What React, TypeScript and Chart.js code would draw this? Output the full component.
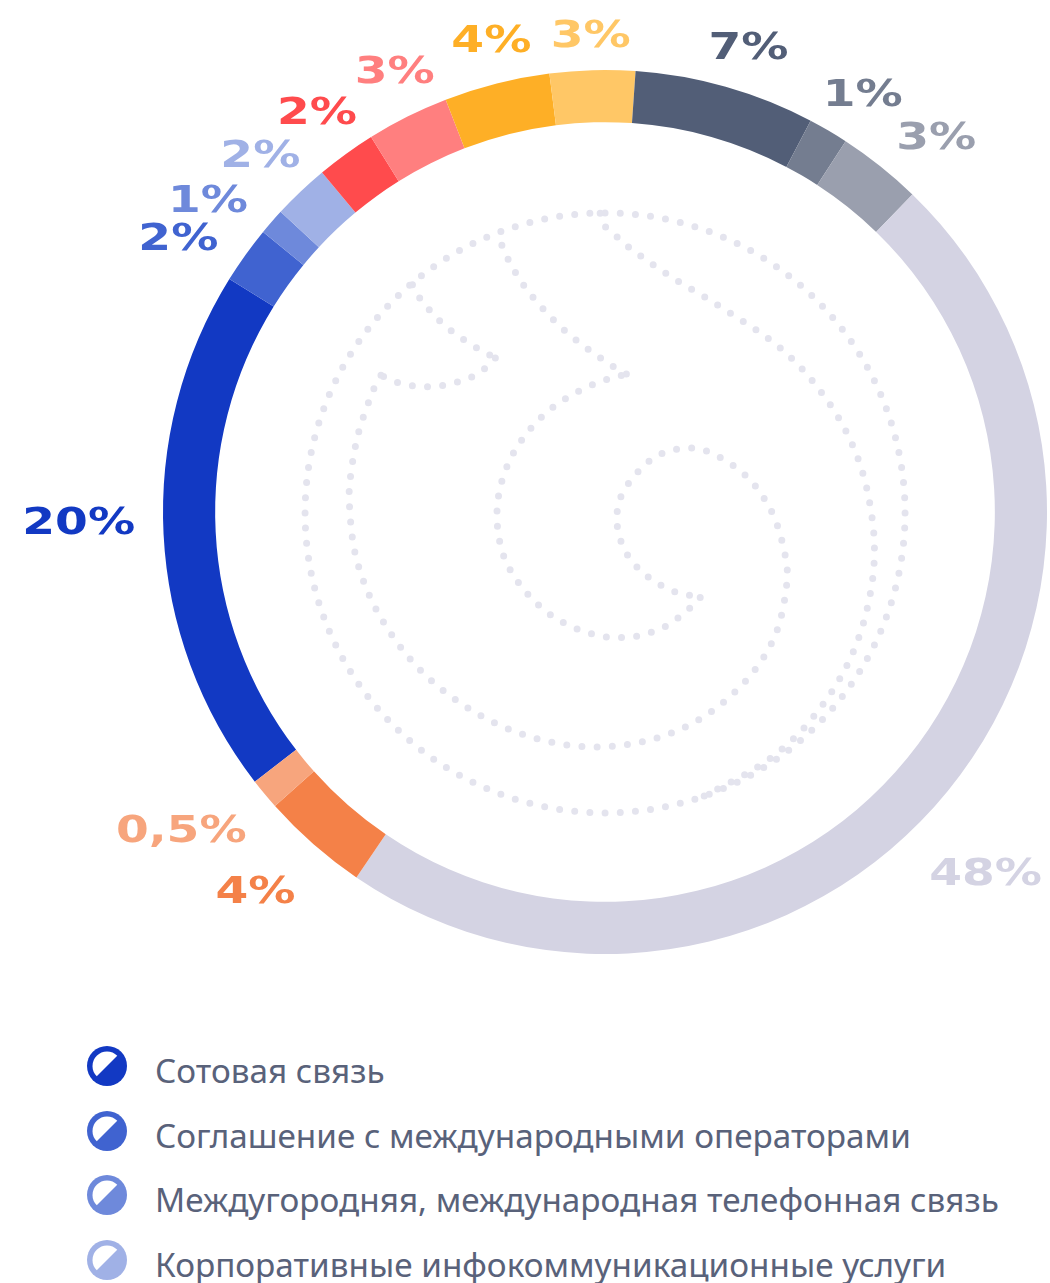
import React, { useEffect, useRef } from 'react';
import { Chart, registerables } from 'chart.js';

Chart.register(...registerables);

// ---- data ----
const categories = [
  'Сотовая связь',
  'Соглашение с международными операторами',
  'Междугородняя, международная телефонная связь',
  'Корпоративные инфокоммуникационные услуги',
];
// segment shares (%), clockwise starting with "Сотовая связь"
const shares = [19.28, 2.09, 0.96, 2.06, 2.18, 3.01, 3.86, 3.11, 6.6, 1.46, 3.08, 47.27, 3.91, 1.14];
const shareLabels = ['20%', '2%', '1%', '2%', '2%', '3%', '4%', '3%', '7%', '1%', '3%', '48%', '4%', '0,5%'];
const colors = [
  '#1239C3', '#4063D0', '#6E89DB', '#A0B1E6', '#FF4B4D', '#FF7F7F', '#FEAF26',
  '#FFC766', '#525E77', '#747D90', '#9A9FAE', '#D4D3E3', '#F48148', '#F7A57D',
];

// ---- style / layout ----
const W = 1050;
const H = 1283;
const CANVAS_H = 1000;
const LABEL_GAP = 28;
const LABEL_SX = 1.24;
const LABEL_NUDGE: Record<number, { a?: number; d?: number }> = {
  0: { a: 1.7 },
  1: { a: -1.5, d: 5 },
  2: { a: -1.5, d: 5 },
  3: { a: 1 },
  4: { a: 1.5 },
  5: { a: 2.2 },
  6: { a: 1.3 },
  7: { d: -7 },
  8: { a: 0.5 },
  10: { a: 1.5, d: 5 },
  11: { a: 6.7, d: 20 },
  12: { d: 20 },
  13: { d: 15 },
};

// decorative dotted logo in the middle
// anchor frame: points are given in a frame that maps to page px by
// page = origin + (p - origin) * FRAME_S, with the chart centre at 605,512 and radius 442
const REF = { cx: 605, cy: 512, r: 442 };
const FRAME = { ox: 290, oy: 190, s: 3 / 2.45 };
const LOGO_CIRCLE = { cx: 547.3, cy: 453.7, r: 245 };
const LOGO_PATHS: number[][][] = [
  [[543.3, 209], [546, 218.3], [555.7, 227], [565.3, 235.7], [586, 250.7], [607.7, 265], [629.7, 278], [651.3, 291.7], [670.3, 304], [690.7, 319.3], [709, 337], [725, 356.7], [739, 377.7], [750.3, 400.3], [758.7, 424.3], [764, 449], [767, 474], [766.7, 499.3], [763, 524.3], [756.7, 549], [747.7, 572.3], [735.7, 594.7], [721, 615.7], [704.7, 634.7], [686, 651.3], [665.3, 665.3], [642.7, 677.3], [628, 685]],
  [[390, 267.3], [396, 278.3], [413.7, 298.3], [435, 314.3], [457.7, 327.3]],
  [[457.7, 327.3], [448, 336.7], [437, 343.3], [425, 347.3], [412.3, 350], [399.3, 350.7], [386.7, 349.3], [374, 346], [364.3, 341.3]],
  [[364.3, 341.3], [358.3, 352.7], [346, 388], [339.3, 425], [338.7, 450], [343.3, 487.3], [355.7, 523], [374.7, 555.7], [398.7, 584.3], [427.7, 608], [460.3, 626.7], [496, 639.3], [533.3, 644.7], [570.7, 642], [606.7, 631.3], [639, 612.3], [668, 584], [687, 551.7], [695.3, 515], [694.7, 490], [684, 454], [662.3, 423.3], [630.7, 403.3], [605.7, 401.7], [583, 411.7], [562, 436.7], [557, 461], [564, 485.3], [580.3, 504.3], [602.3, 517.3], [625, 522.7]],
  [[625, 522.7], [616.3, 531.7], [596.7, 546.3], [573.3, 554.3], [548.7, 555], [525, 548.7], [503.3, 537.3], [485, 521], [470.3, 501], [462.3, 481.7], [459, 457], [461.7, 432.7], [470.3, 409], [483.7, 388.3], [500.7, 370.7], [521.3, 356.7], [544, 346.3], [564.7, 340.3]],
  [[564.7, 340.3], [553.3, 333.7], [533, 319.7], [513.7, 304.3], [496, 286.3], [480.3, 267], [467.7, 245.7], [459, 225]],
];

function catmull(points: number[][], steps = 16): number[][] {
  const out: number[][] = [];
  const n = points.length;
  for (let i = 0; i < n - 1; i++) {
    const p0 = points[Math.max(i - 1, 0)];
    const p1 = points[i];
    const p2 = points[i + 1];
    const p3 = points[Math.min(i + 2, n - 1)];
    for (let k = 0; k < steps; k++) {
      const t = k / steps;
      const t2 = t * t;
      const t3 = t2 * t;
      const f = (j: number) =>
        0.5 * (2 * p1[j] + (-p0[j] + p2[j]) * t + (2 * p0[j] - 5 * p1[j] + 4 * p2[j] - p3[j]) * t2 + (-p0[j] + 3 * p1[j] - 3 * p2[j] + p3[j]) * t3);
      out.push([f(0), f(1)]);
    }
  }
  out.push(points[n - 1]);
  return out;
}

function dotsAlong(pts: number[][], spacing: number): number[][] {
  const dots: number[][] = [pts[0]];
  let carry = 0;
  for (let i = 1; i < pts.length; i++) {
    const a = pts[i - 1];
    const b = pts[i];
    const len = Math.hypot(b[0] - a[0], b[1] - a[1]);
    let pos = spacing - carry;
    while (pos <= len) {
      const t = pos / len;
      dots.push([a[0] + (b[0] - a[0]) * t, a[1] + (b[1] - a[1]) * t]);
      pos += spacing;
    }
    carry = len - (pos - spacing);
  }
  return dots;
}

const logoPlugin = {
  id: 'dottedLogo',
  beforeDatasetsDraw(chart: any) {
    const arc = chart.getDatasetMeta(0).data[0];
    if (!arc) return;
    const { x, y, outerRadius } = arc.getProps(['x', 'y', 'outerRadius'], true);
    const k = outerRadius / REF.r;
    const tx = (p: number[]) => {
      const px = FRAME.ox + (p[0] - FRAME.ox) * FRAME.s;
      const py = FRAME.oy + (p[1] - FRAME.oy) * FRAME.s;
      return [x + (px - REF.cx) * k, y + (py - REF.cy) * k];
    };
    const spacing = 15.2 * k;
    const dr = 3.5 * k;
    const ctx = chart.ctx;
    ctx.save();
    ctx.fillStyle = '#E4E4EE';
    ctx.beginPath();
    const dot = (p: number[]) => {
      ctx.moveTo(p[0] + dr, p[1]);
      ctx.arc(p[0], p[1], dr, 0, Math.PI * 2);
    };
    const c = tx([LOGO_CIRCLE.cx, LOGO_CIRCLE.cy]);
    const cr = LOGO_CIRCLE.r * FRAME.s * k;
    const nC = Math.round((2 * Math.PI * cr) / spacing);
    for (let i = 0; i < nC; i++) {
      const a = -Math.PI / 2 + (i / nC) * Math.PI * 2;
      dot([c[0] + cr * Math.cos(a), c[1] + cr * Math.sin(a)]);
    }
    LOGO_PATHS.forEach((path) => {
      const pts = catmull(path.map(tx));
      dotsAlong(pts, spacing).forEach(dot);
    });
    ctx.fill();
    ctx.restore();
  },
};

const labelPlugin = {
  id: 'shareLabels',
  afterDatasetsDraw(chart: any) {
    const meta = chart.getDatasetMeta(0);
    const ctx = chart.ctx;
    ctx.save();
    ctx.font = '700 38px "DejaVu Sans"';
    ctx.textAlign = 'center';
    ctx.textBaseline = 'middle';
    meta.data.forEach((arc: any, i: number) => {
      const { x, y, startAngle, endAngle, outerRadius } = arc.getProps(
        ['x', 'y', 'startAngle', 'endAngle', 'outerRadius'],
        true
      );
      const nudge = LABEL_NUDGE[i] || {};
      const mid = (startAngle + endAngle) / 2 + ((nudge.a || 0) * Math.PI) / 180;
      const text = shareLabels[i];
      const hw = (ctx.measureText(text).width * LABEL_SX) / 2;
      const hh = 14;
      const r = outerRadius + LABEL_GAP + (nudge.d || 0);
      const cx = x + Math.cos(mid) * (r + hw);
      const cy = y + Math.sin(mid) * (r + hh);
      ctx.fillStyle = colors[i];
      ctx.save();
      ctx.translate(cx, cy);
      ctx.scale(LABEL_SX, 1);
      ctx.fillText(text, 0, 2);
      ctx.restore();
    });
    ctx.restore();
  },
};

function LegendIcon({ color }: { color: string }) {
  const r = 14.5;
  const a = Math.SQRT1_2 * r;
  return (
    <svg width={40} height={40} viewBox="-20 -20 40 40" style={{ display: 'block' }}>
      <circle cx={0} cy={0} r={20} fill={color} />
      <path d={`M ${-a} ${a} A ${r} ${r} 0 0 1 ${a} ${-a} Z`} fill="#ffffff" />
    </svg>
  );
}

export default function App() {
  const canvasRef = useRef<HTMLCanvasElement | null>(null);

  useEffect(() => {
    document.body.style.margin = '0';
    const canvas = canvasRef.current;
    if (!canvas) return;
    const chart = new Chart(canvas, {
      type: 'doughnut',
      data: {
        labels: shares.map((_, i) => categories[i] ?? shareLabels[i]),
        datasets: [
          {
            data: shares,
            backgroundColor: colors,
            borderWidth: 0,
            hoverOffset: 0,
            offset: 0,
          },
        ],
      },
      options: {
        responsive: false,
        animation: false,
        devicePixelRatio: 1,
        rotation: 232.4,
        cutout: '88.2%',
        layout: { padding: { left: 163, top: 70, right: W - 163 - 884, bottom: CANVAS_H - 70 - 884 } },
        plugins: {
          legend: { display: false },
          tooltip: { enabled: false },
        },
      },
      plugins: [logoPlugin, labelPlugin],
    });
    return () => chart.destroy();
  }, []);

  return (
    <div style={{ position: 'relative', width: W, height: H, overflow: 'hidden', background: '#ffffff' }}>
      <canvas ref={canvasRef} width={W} height={CANVAS_H} style={{ position: 'absolute', left: 0, top: 0, width: W, height: CANVAS_H }} />
      {categories.map((name, i) => (
        <div key={name} style={{ position: 'absolute', left: 0, top: 1046 + i * 64.7, height: 40, width: W }}>
          <div style={{ position: 'absolute', left: 87, top: 0 }}>
            <LegendIcon color={colors[i]} />
          </div>
          <div
            style={{
              position: 'absolute',
              left: 155,
              top: 4,
              fontFamily: '"Noto Sans", sans-serif',
              fontSize: 33.3,
              lineHeight: '40px',
              color: '#59627A',
              whiteSpace: 'nowrap',
            }}
          >
            {name}
          </div>
        </div>
      ))}
    </div>
  );
}
